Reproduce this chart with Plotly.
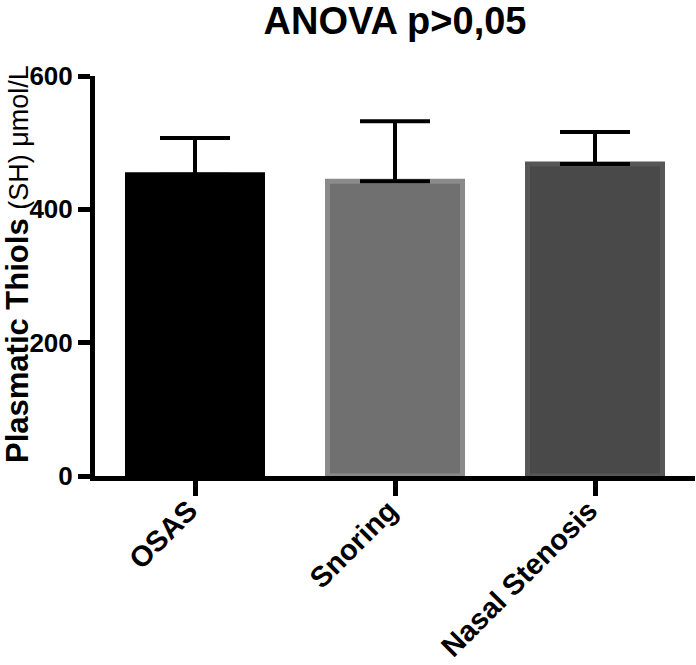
import plotly.graph_objects as go

categories = ["OSAS", "Snoring", "Nasal Stenosis"]
means = [452, 442, 468]
sd_upper = [55, 90, 48]
fill_colors = ["#000000", "#707070", "#494949"]
border_colors = ["#000000", "#8a8a8a", "#575757"]
y_ticks = [0, 200, 400, 600]

FONT = "Liberation Sans, Arial, sans-serif"

fig = go.Figure()
fig.add_trace(go.Bar(
    x=categories,
    y=means,
    width=0.675,
    marker=dict(color=fill_colors, line=dict(color=border_colors, width=5)),
    error_y=dict(type="data", array=sd_upper, arrayminus=[0] * len(sd_upper),
                 symmetric=False, color="black", thickness=4, width=35),
    showlegend=False,
))

fig.update_layout(
    width=696, height=665,
    margin=dict(l=95, r=1, t=76, b=189, autoexpand=False),
    paper_bgcolor="white", plot_bgcolor="white",
    font=dict(family=FONT, color="black"),
    title=dict(text="<b>ANOVA p>0,05</b>", x=0.5, xref="paper", xanchor="center",
               y=1 - 21 / 665, yref="container", yanchor="middle",
               font=dict(size=38, family=FONT, color="black")),
)
fig.update_xaxes(
    range=[-0.5, 2.5], showline=True, linewidth=5, linecolor="black",
    ticks="outside", ticklen=15, tickwidth=5, tickcolor="black",
    tickangle=-45, tickfont=dict(size=29, family=FONT, color="black"),
    ticklabelstandoff=-14, ticklabelshift=-6,
    showgrid=False, zeroline=False, automargin=False,
    tickvals=categories,
    ticktext=["<b>" + c + "</b>" for c in categories],
)
fig.update_yaxes(
    range=[0, 600], showline=True, linewidth=5, linecolor="black",
    ticks="outside", ticklen=12, tickwidth=5, tickcolor="black",
    tickvals=y_ticks, ticktext=["<b>%d</b>" % v for v in y_ticks],
    tickfont=dict(size=26, family=FONT, color="black"),
    showgrid=False, zeroline=False, automargin=False,
)
fig.add_annotation(
    text="<b>Plasmatic Thiols</b> <span style='font-size:27px'>(SH) μmol/L</span>",
    xref="paper", yref="paper", x=(17 - 95) / 600, y=(476 - 264) / 400,
    xanchor="center", yanchor="middle", textangle=-90, showarrow=False,
    font=dict(size=31, family=FONT, color="black"),
)

fig.write_html("out.html", config={"displayModeBar": False},
               post_script="document.body.style.margin='0';")
